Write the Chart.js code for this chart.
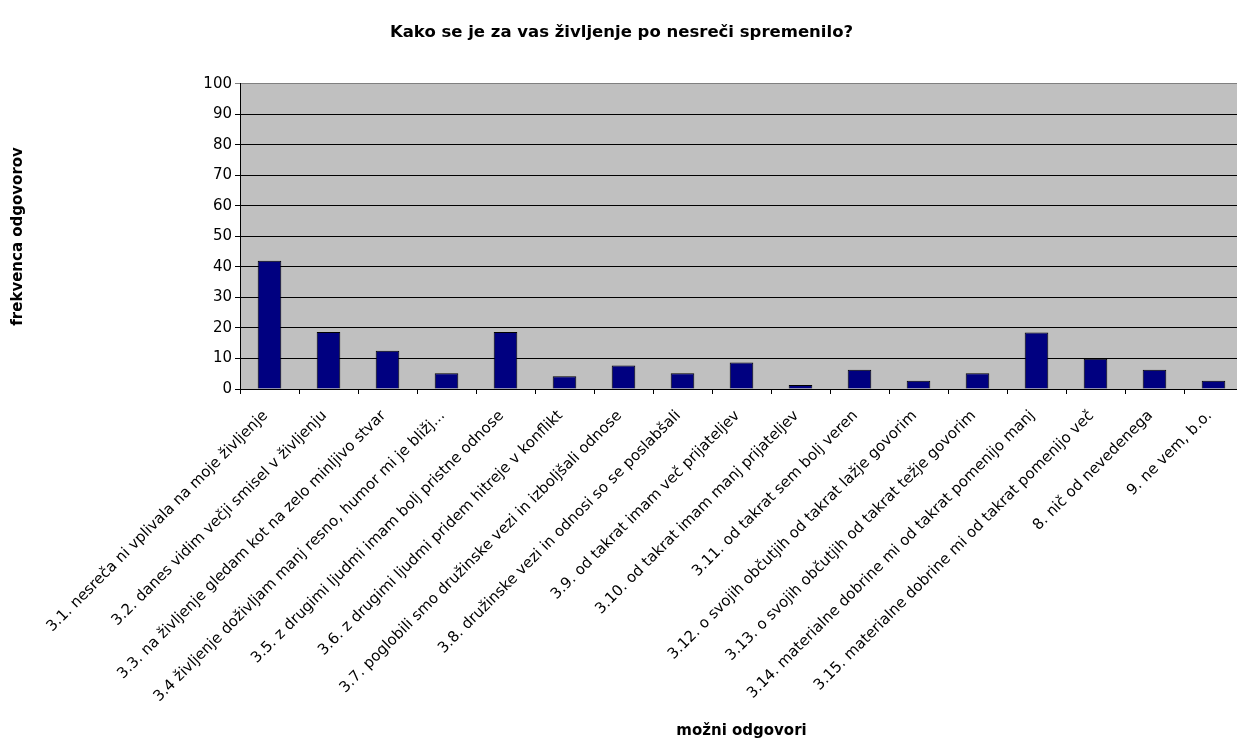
<!DOCTYPE html>
<html>
<head>
<meta charset="utf-8">
<script src="https://cdn.jsdelivr.net/npm/chart.js@4/dist/chart.umd.min.js"></script>
<style>
  html, body { margin: 0; padding: 0; background: #fff; overflow: hidden; }
  #wrap { width: 1243px; height: 742px; }
</style>
</head>
<body>
<div id="wrap"><canvas id="chart" width="1243" height="742"></canvas></div>
<script>
// answers (categories) and response frequency
var answers = [
  '3.1. nesreča ni vplivala na moje življenje',
  '3.2. danes vidim večji smisel v življenju',
  '3.3. na življenje gledam kot na zelo minljivo stvar',
  '3.4 življenje doživljam manj resno, humor mi je bližj...',
  '3.5. z drugimi ljudmi imam bolj pristne odnose',
  '3.6. z drugimi ljudmi pridem hitreje v konflikt',
  '3.7. poglobili smo družinske vezi in izboljšali odnose',
  '3.8. družinske vezi in odnosi so se poslabšali',
  '3.9. od takrat imam več prijateljev',
  '3.10. od takrat imam manj prijateljev',
  '3.11. od takrat sem bolj veren',
  '3.12. o svojih občutjih od takrat lažje govorim',
  '3.13. o svojih občutjih od takrat težje govorim',
  '3.14. materialne dobrine mi od takrat pomenijo manj',
  '3.15. materialne dobrine mi od takrat pomenijo več',
  '8. nič od nevedenega',
  '9. ne vem, b.o.'
];
var frequency = [42, 18.7, 12.5, 5.2, 18.7, 4.2, 7.7, 5.2, 8.7, 1.3, 6.3, 2.7, 5.2, 18.5, 9.9, 6.3, 2.7];
var yTicks = [0, 10, 20, 30, 40, 50, 60, 70, 80, 90, 100];

var chartTitle = 'Kako se je za vas življenje po nesreči spremenilo?';
var yTitle = 'frekvenca odgovorov';
var xTitle = 'možni odgovori';

var FONT = '"DejaVu Sans", Arial, sans-serif';

// grey plot area like the excel chart
var plotBg = {
  id: 'plotBg',
  beforeDraw: function(chart) {
    var a = chart.chartArea, ctx = chart.ctx;
    ctx.save();
    ctx.fillStyle = '#c0c0c0';
    ctx.fillRect(a.left, a.top, a.right - a.left, a.bottom - a.top);
    ctx.restore();
  }
};

var ctx = document.getElementById('chart').getContext('2d');
var myChart = new Chart(ctx, {
  type: 'bar',
  plugins: [plotBg],
  data: {
    labels: answers,
    datasets: [{
      label: 'frekvenca',
      data: frequency,
      backgroundColor: '#000080',
      borderColor: '#000000',
      borderWidth: 1,
      barPercentage: 0.4,
      categoryPercentage: 1
    }]
  },
  options: {
    responsive: false,
    maintainAspectRatio: false,
    animation: false,
    layout: { padding: 0 },
    plugins: {
      legend: { display: false },
      tooltip: { enabled: false },
      title: {
        display: true,
        text: chartTitle,
        color: '#000',
        font: { family: FONT, size: 16.5, weight: 'bold' },
        padding: { top: 23, bottom: 41 }
      }
    },
    scales: {
      x: {
        offset: true,
        grid: { drawOnChartArea: false, drawTicks: true, tickLength: 5, color: '#000', offset: true },
        border: { color: '#000', width: 1 },
        ticks: {
          color: '#000',
          font: { family: FONT, size: 15 },
          minRotation: 45,
          maxRotation: 45,
          autoSkip: false,
          padding: 13,
          labelOffset: -4
        },
        title: {
          display: true,
          text: xTitle,
          color: '#000',
          font: { family: FONT, size: 15, weight: 'bold' },
          padding: { top: 4, bottom: 2 }
        },
        afterFit: function(scale) { scale.height = 353; }
      },
      y: {
        min: 0,
        max: 100,
        afterBuildTicks: function(scale) {
          scale.ticks = yTicks.map(function(v) { return { value: v }; });
        },
        grid: {
          color: function(c) { return c.tick && c.tick.value === 100 ? '#808080' : '#000'; },
          lineWidth: 1,
          tickLength: 5
        },
        border: { color: '#000', width: 1 },
        ticks: {
          color: '#000',
          font: { family: FONT, size: 15 },
          padding: 3
        },
        title: {
          display: true,
          text: yTitle,
          color: '#000',
          font: { family: FONT, size: 15, weight: 'bold' },
          padding: { top: 9, bottom: 4 }
        },
        afterFit: function(scale) { scale.width = 240; }
      }
    }
  }
});
</script>
</body>
</html>
